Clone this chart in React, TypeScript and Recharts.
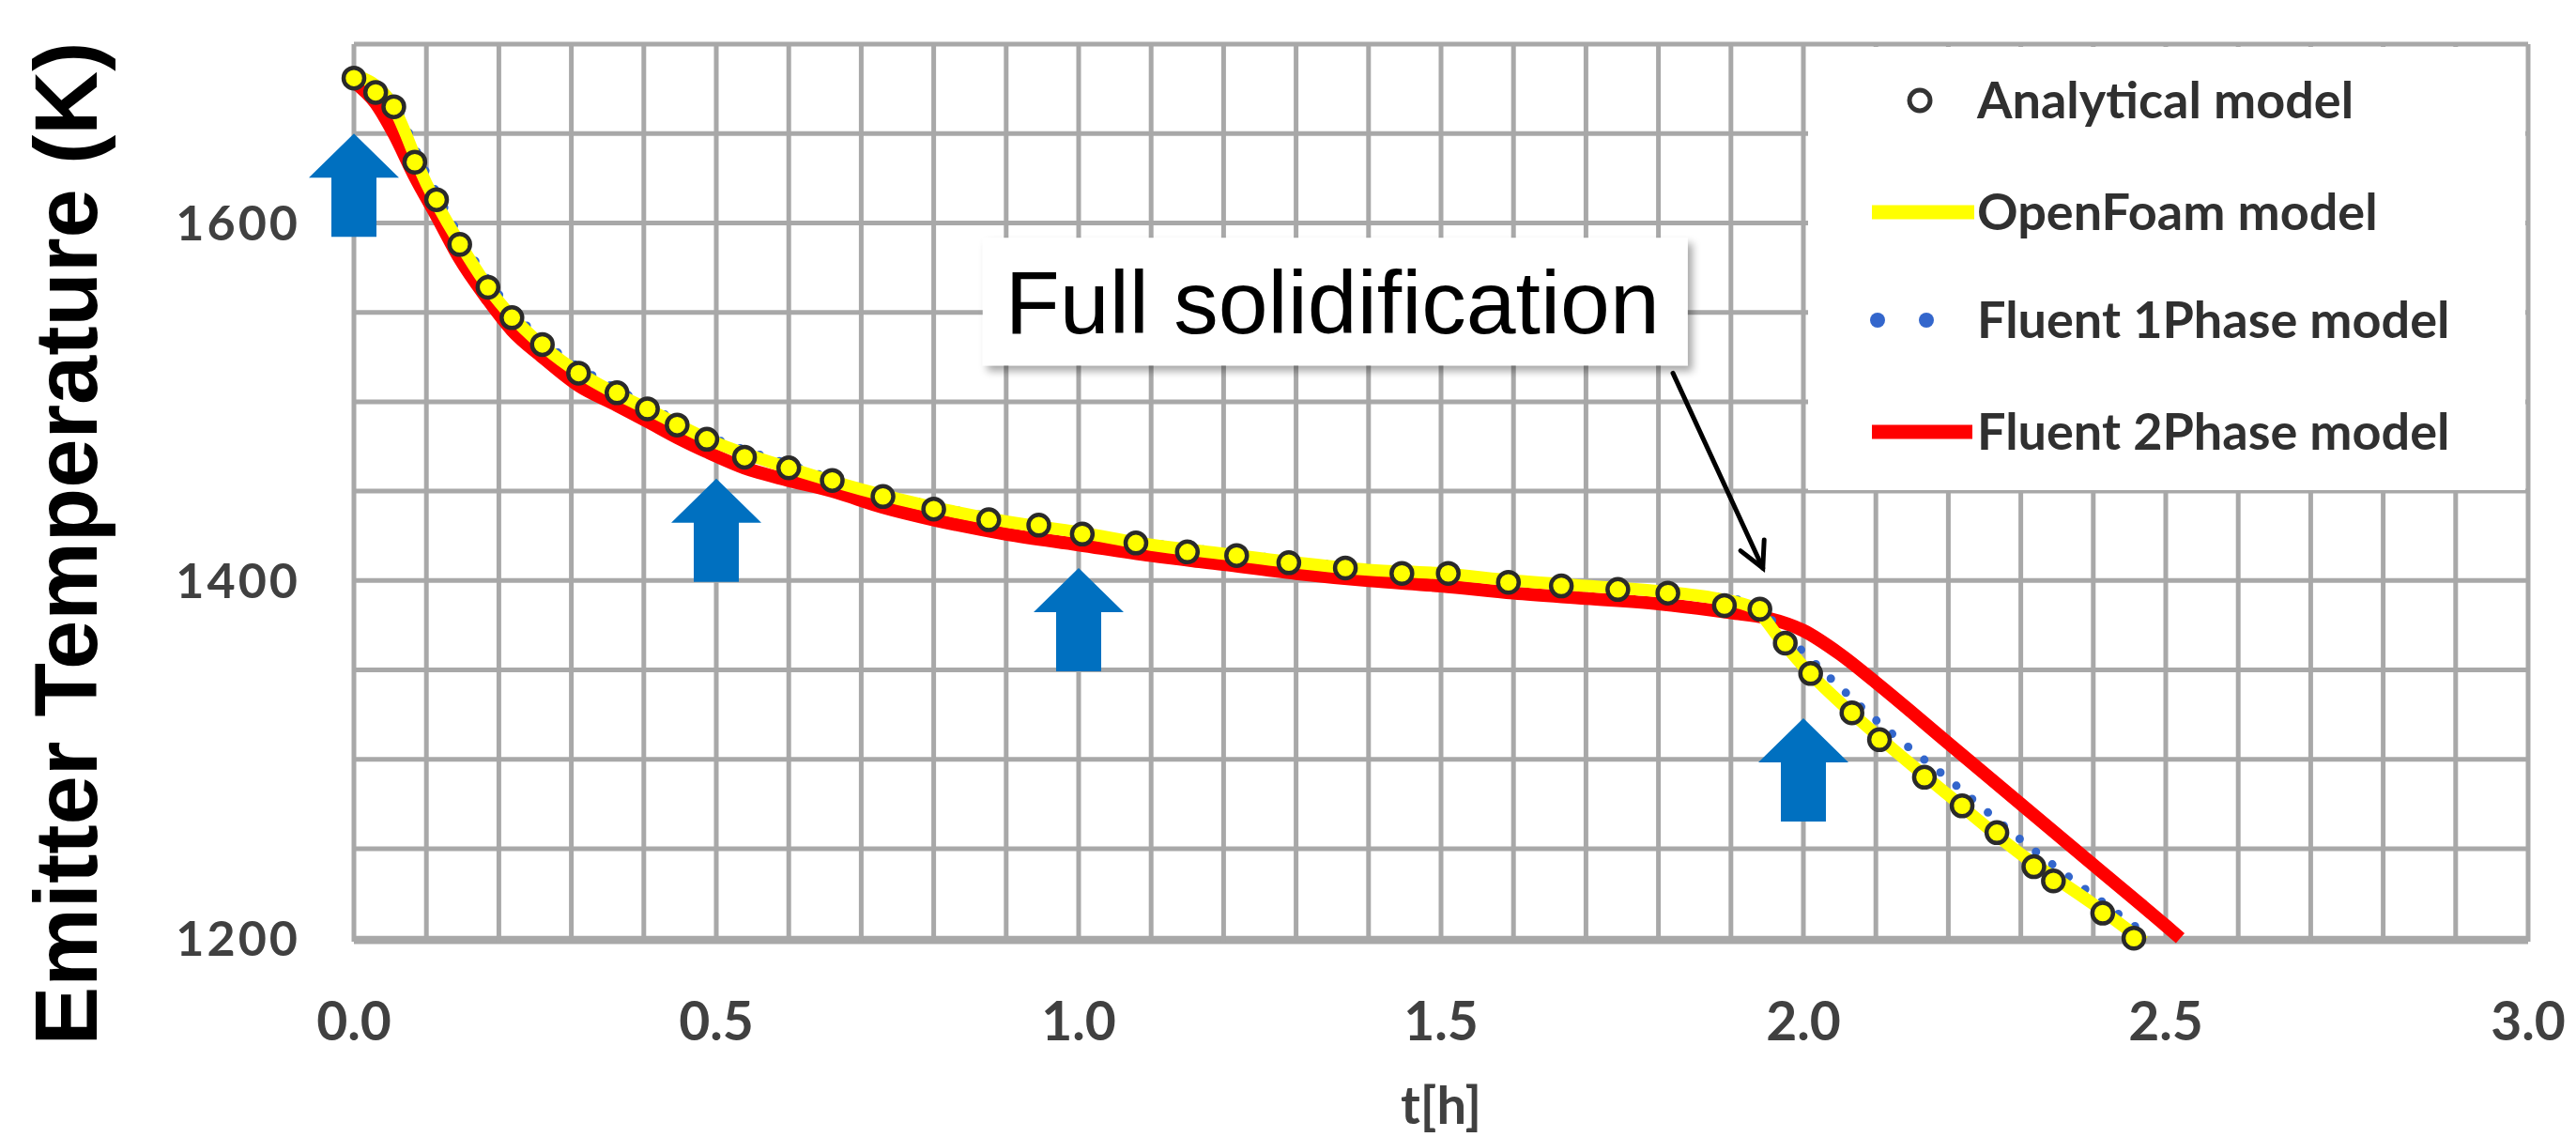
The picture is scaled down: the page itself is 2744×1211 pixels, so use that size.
import { ComposedChart, Line, XAxis, YAxis, CartesianGrid, Legend, ReferenceDot, ReferenceLine, Label } from 'recharts';

// axis ticks (grid every 0.1 h / 50 K, labels every 0.5 h / 200 K)
const xTicks = [0, 0.1, 0.2, 0.3, 0.4, 0.5, 0.6, 0.7, 0.8, 0.9, 1, 1.1, 1.2, 1.3, 1.4, 1.5, 1.6, 1.7, 1.8, 1.9, 2, 2.1, 2.2, 2.3, 2.4, 2.5, 2.6, 2.7, 2.8, 2.9, 3];
const xLabels = [0, 0.5, 1, 1.5, 2, 2.5, 3];
const yTicks = [1200, 1250, 1300, 1350, 1400, 1450, 1500, 1550, 1600, 1650, 1700];
const yLabels = [1200, 1400, 1600];

// Analytical model (markers)
const analyticalT = [0, 0.03, 0.055, 0.084, 0.114, 0.146, 0.185, 0.218, 0.26, 0.31, 0.363, 0.405, 0.446, 0.487, 0.539, 0.6, 0.66, 0.73, 0.8, 0.876, 0.945, 1.005, 1.079, 1.15, 1.218, 1.29, 1.368, 1.446, 1.51, 1.593, 1.666, 1.744, 1.813, 1.891, 1.94, 1.975, 2.01, 2.067, 2.105, 2.167, 2.219, 2.267, 2.318, 2.345, 2.413, 2.456];
const analyticalK = [1681, 1673, 1665, 1634, 1613, 1588, 1564, 1547, 1532, 1516, 1505, 1496, 1487, 1479, 1469, 1463, 1456, 1447, 1440, 1434, 1431, 1426, 1421, 1416, 1414, 1410, 1407, 1404, 1404, 1399, 1397, 1395, 1393, 1386, 1384, 1365, 1348, 1326, 1311, 1290, 1274, 1259, 1240, 1232, 1214, 1200];

// OpenFoam model
const openFoamT = [0, 0.05, 0.1, 0.15, 0.2, 0.25, 0.3, 0.35, 0.4, 0.5, 0.6, 0.7, 0.8, 0.9, 1, 1.1, 1.2, 1.3, 1.4, 1.5, 1.6, 1.7, 1.8, 1.88, 1.93, 1.97, 2, 2.1, 2.2, 2.3, 2.4, 2.47];
const openFoamK = [1683, 1668, 1622, 1586, 1556, 1535, 1519, 1507, 1497, 1477, 1463, 1451, 1441, 1433, 1427, 1420, 1415, 1410, 1406, 1404, 1400, 1397, 1394, 1390, 1385, 1366, 1352, 1314, 1280, 1247, 1219, 1198];

// Fluent 1Phase model
const fluent1T = [0, 0.05, 0.1, 0.15, 0.2, 0.25, 0.3, 0.35, 0.4, 0.5, 0.6, 0.7, 0.8, 0.9, 1, 1.1, 1.2, 1.3, 1.4, 1.5, 1.6, 1.7, 1.8, 1.88, 1.93, 1.97, 2, 2.1, 2.2, 2.3, 2.4, 2.48];
const fluent1K = [1682, 1670, 1628, 1590, 1560, 1538, 1522, 1510, 1499, 1479, 1465, 1452, 1442, 1434, 1427, 1421, 1416, 1411, 1407, 1404, 1400, 1397, 1394, 1391, 1387, 1372, 1360, 1322, 1289, 1255, 1224, 1200];

// Fluent 2Phase model
const fluent2T = [0, 0.03, 0.055, 0.084, 0.114, 0.146, 0.185, 0.218, 0.26, 0.31, 0.363, 0.405, 0.446, 0.487, 0.539, 0.6, 0.66, 0.73, 0.8, 0.9, 1, 1.1, 1.2, 1.3, 1.4, 1.5, 1.6, 1.7, 1.8, 1.9, 1.95, 2, 2.05, 2.1, 2.2, 2.3, 2.4, 2.5, 2.52];
const fluent2K = [1679, 1667, 1650, 1626, 1604, 1580, 1557, 1540, 1525, 1509, 1498, 1489, 1480, 1472, 1463, 1456, 1450, 1441, 1434, 1426, 1420, 1414, 1409, 1404, 1400, 1397, 1393, 1390, 1387, 1382, 1379, 1372, 1359, 1343, 1309, 1275, 1241, 1207, 1200];

// annotations (data coordinates)
const arrowTipsT = [0, 0.5, 1, 2];
const arrowTipsK = [1650, 1457, 1407, 1323];
const calloutText = 'Full solidification';
const calloutBox = { t: 1.354, k: 1556 };
const calloutFrom = { t: 1.82, k: 1516 };
const calloutTo = { t: 1.944, k: 1407 };

const zip = (ts: number[], ks: number[]) => ts.map((t, i) => ({ t, k: ks[i] }));
const analytical = zip(analyticalT, analyticalK);
const openFoam = zip(openFoamT, openFoamK);
const fluent1 = zip(fluent1T, fluent1K);
const fluent2 = zip(fluent2T, fluent2K);

const TICK_FONT = 'Lato, "Open Sans", sans-serif';
const ARIAL = '"Liberation Sans", Arial, sans-serif';

const XTick = (props: any) => {
  const { x, y, payload } = props;
  if (!xLabels.includes(payload.value)) return <g />;
  return (
    <text x={x} y={y + 105} textAnchor="middle" fontFamily={TICK_FONT} fontWeight={700} fontSize={57} fill="#404040">
      {payload.value.toFixed(1)}
    </text>
  );
};

const YTick = (props: any) => {
  const { x, y, payload } = props;
  if (!yLabels.includes(payload.value)) return <g />;
  return (
    <text x={x - 57} y={y + 19} textAnchor="end" fontFamily={TICK_FONT} fontWeight={700} fontSize={52} letterSpacing={3} fill="#404040">
      {payload.value}
    </text>
  );
};

const BlueArrow = (props: any) => {
  const { cx, cy } = props;
  const pts = [
    [0, 0], [48, 47], [24, 47], [24, 110], [-24, 110], [-24, 47], [-48, 47],
  ].map(([dx, dy]) => `${cx + dx},${cy + dy}`).join(' ');
  return <polygon points={pts} fill="#0070C0" />;
};

const CalloutBox = (props: any) => {
  const { cx, cy } = props;
  const w = 751;
  const h = 136;
  return (
    <g>
      <rect x={cx - w / 2} y={cy - h / 2} width={w} height={h} fill="#fff" filter="url(#boxShadow)" />
      <text x={cx - 3} y={cy + 34} textAnchor="middle" fontFamily={ARIAL} fontSize={95} fill="#000">
        {calloutText}
      </text>
    </g>
  );
};

const CalloutArrow = (props: any) => {
  const { x1, y1, x2, y2 } = props;
  const ang = Math.atan2(y2 - y1, x2 - x1);
  const len = 30;
  const spread = 0.48;
  const w1x = x2 - len * Math.cos(ang - spread);
  const w1y = y2 - len * Math.sin(ang - spread);
  const w2x = x2 - len * Math.cos(ang + spread);
  const w2y = y2 - len * Math.sin(ang + spread);
  return (
    <g stroke="#000" strokeWidth={5} fill="none" strokeLinecap="round">
      <line x1={x1} y1={y1} x2={x2} y2={y2} />
      <polyline points={`${w1x},${w1y} ${x2},${y2} ${w2x},${w2y}`} />
    </g>
  );
};

const LegendBox = () => {
  const textProps = { fontFamily: TICK_FONT, fontWeight: 700, fontSize: 54, fill: '#303030' };
  return (
    <svg width={764} height={472} style={{ display: 'block' }}>
      <rect width={764} height={472} fill="#fff" />
      <circle cx={119} cy={57} r={11} fill="none" stroke="#333" strokeWidth={5} />
      <text x={180} y={76} {...textProps}>Analytical model</text>
      <line x1={68} y1={176} x2={177} y2={176} stroke="#FFFF00" strokeWidth={15} />
      <text x={180} y={195} {...textProps}>OpenFoam model</text>
      <circle cx={74} cy={291} r={8} fill="#3366CC" />
      <circle cx={126} cy={291} r={8} fill="#3366CC" />
      <text x={180} y={310} {...textProps}>Fluent 1Phase model</text>
      <line x1={68} y1={410} x2={175} y2={410} stroke="#FF0000" strokeWidth={15} />
      <text x={180} y={429} {...textProps}>Fluent 2Phase model</text>
    </svg>
  );
};

export default function App() {
  return (
    <div style={{ position: 'absolute', left: 0, top: 0, width: 2744, height: 1211, background: '#fff' }}>
      <ComposedChart width={2744} height={1211} margin={{ top: 47, right: 51, bottom: 58, left: 0 }}>
        <defs>
          <filter id="boxShadow" x="-10%" y="-20%" width="130%" height="150%">
            <feDropShadow dx={5} dy={6} stdDeviation={4} floodColor="#000" floodOpacity={0.35} />
          </filter>
        </defs>
        <CartesianGrid stroke="#A8A8A8" strokeWidth={5} />
        <XAxis
          dataKey="t"
          type="number"
          domain={[0, 3]}
          ticks={xTicks}
          interval={0}
          height={150}
          axisLine={false}
          tickLine={false}
          tickSize={0}
          tickMargin={0}
          tick={<XTick />}
        >
          <Label
            content={(p: any) => (
              <text x={p.viewBox.x + p.viewBox.width / 2} y={1197} textAnchor="middle" fontFamily={TICK_FONT} fontWeight={700} fontSize={56} fill="#404040">
                t[h]
              </text>
            )}
          />
        </XAxis>
        <YAxis
          dataKey="k"
          type="number"
          domain={[1200, 1700]}
          ticks={yTicks}
          interval={0}
          width={377}
          axisLine={false}
          tickLine={false}
          tickSize={0}
          tickMargin={0}
          tick={<YTick />}
        >
          <Label
            content={() => (
              <text transform="translate(103,579) rotate(-90)" textAnchor="middle" fontFamily={ARIAL} fontWeight={700} fontSize={94} fill="#000">
                Emitter Temperature (K)
              </text>
            )}
          />
        </YAxis>
        <Line data={fluent2} dataKey="k" type="monotone" stroke="#FF0000" strokeWidth={14} dot={false} activeDot={false} isAnimationActive={false} />
        <Line
          data={fluent1}
          dataKey="k"
          type="monotone"
          stroke="#3366CC"
          strokeWidth={9}
          strokeDasharray="0 22"
          strokeLinecap="round"
          dot={false}
          activeDot={false}
          isAnimationActive={false}
        />
        <Line data={openFoam} dataKey="k" type="monotone" stroke="#FFFF00" strokeWidth={13} dot={false} activeDot={false} isAnimationActive={false} />
        <Line
          data={analytical}
          dataKey="k"
          stroke="none"
          strokeWidth={0}
          dot={{ r: 11, stroke: '#2a2a2a', strokeWidth: 4.5, fill: '#FFFF00' }}
          activeDot={false}
          isAnimationActive={false}
        />
        {arrowTipsT.map((t, i) => (
          <ReferenceDot key={i} x={t} y={arrowTipsK[i]} r={1} shape={<BlueArrow />} ifOverflow="visible" />
        ))}
        <ReferenceDot x={calloutBox.t} y={calloutBox.k} r={1} shape={<CalloutBox />} ifOverflow="visible" />
        <ReferenceLine
          segment={[{ x: calloutFrom.t, y: calloutFrom.k }, { x: calloutTo.t, y: calloutTo.k }]}
          shape={<CalloutArrow />}
          ifOverflow="visible"
        />
        <Legend
          layout="vertical"
          align="center"
          verticalAlign="middle"
          content={<LegendBox />}
          wrapperStyle={{ position: 'absolute', left: 1926, top: 50, width: 764, height: 472, margin: 0, padding: 0 }}
        />
      </ComposedChart>
    </div>
  );
}
